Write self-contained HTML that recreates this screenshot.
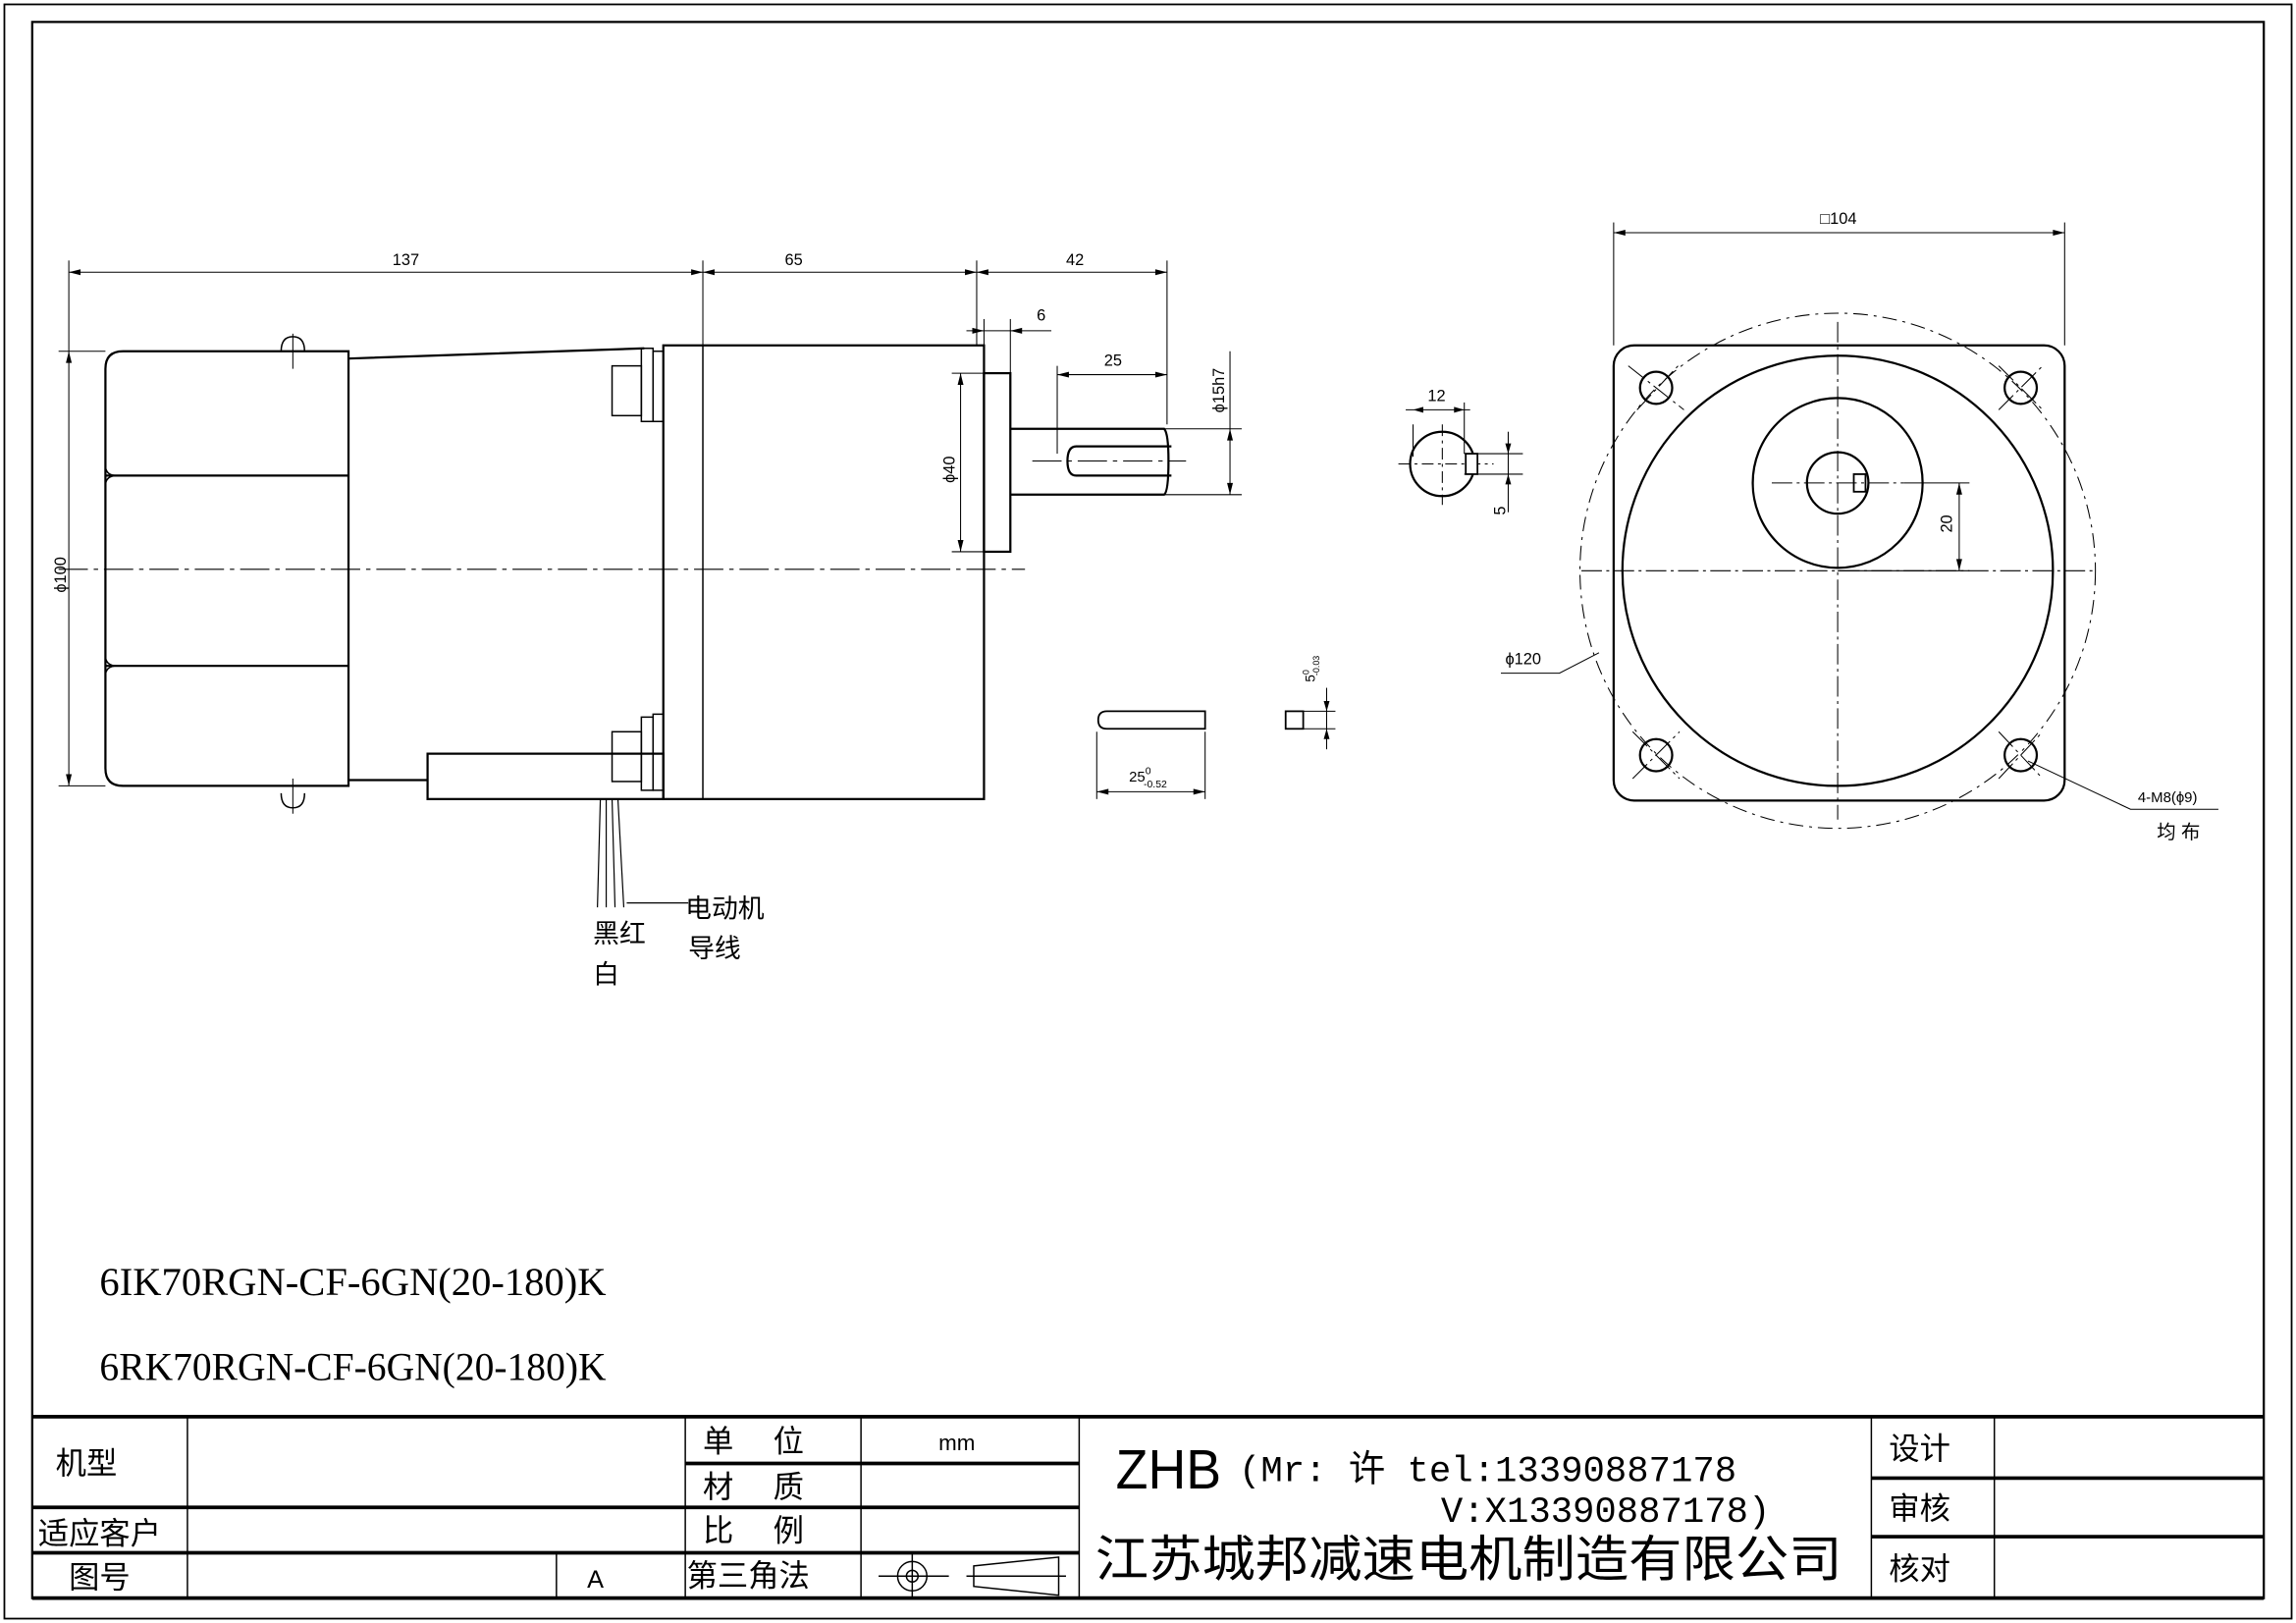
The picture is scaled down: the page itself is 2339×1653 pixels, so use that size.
<!DOCTYPE html>
<html><head><meta charset="utf-8"><style>
html,body{margin:0;padding:0;background:#fff}
svg{display:block}
text{font-family:"Liberation Sans","Noto Sans CJK SC",sans-serif;fill:#000}
</style></head><body>
<svg width="2339" height="1653" viewBox="0 0 1568 1109" preserveAspectRatio="none" xmlns="http://www.w3.org/2000/svg">
<g fill="none" stroke="#000" stroke-width="1">
<rect x="3" y="3" width="1562" height="1103" stroke-width="1.2"/>
<rect x="22" y="15" width="1524" height="1077" stroke-width="1.5"/>
<g stroke-width="2.5">
<line x1="22" y1="968" x2="1546" y2="968"/>
<line x1="22" y1="1092" x2="1546" y2="1092"/>
<line x1="22" y1="1030" x2="468" y2="1030"/>
<line x1="22" y1="1061" x2="468" y2="1061"/>
<line x1="468" y1="1000" x2="737" y2="1000"/>
<line x1="468" y1="1030" x2="737" y2="1030"/>
<line x1="468" y1="1061" x2="737" y2="1061"/>
<line x1="1278" y1="1010" x2="1546" y2="1010"/>
<line x1="1278" y1="1050" x2="1546" y2="1050"/>
</g>
<line x1="128" y1="968" x2="128" y2="1092"/>
<line x1="380" y1="1061" x2="380" y2="1092"/>
<line x1="468" y1="968" x2="468" y2="1092"/>
<line x1="588" y1="968" x2="588" y2="1092"/>
<line x1="737" y1="968" x2="737" y2="1092"/>
<line x1="1278" y1="968" x2="1278" y2="1092"/>
<line x1="1362" y1="968" x2="1362" y2="1092"/>
<circle cx="623" cy="1077" r="10"/><circle cx="623" cy="1077" r="4"/>
<line x1="600" y1="1077" x2="648" y2="1077"/><line x1="623" y1="1062" x2="623" y2="1092"/>
<path d="M665 1070 L723 1064 L723 1090 L665 1084 Z M660 1077 H728"/>

<g stroke-width="1.5">
<path d="M238 240 H84 Q72 240 72 252 V525 Q72 537 84 537 H238 Z"/>
<line x1="72" y1="325" x2="238" y2="325"/>
<line x1="72" y1="455" x2="238" y2="455"/>
<path d="M72 318 Q72 325 80 325 M72 332 Q72 325 80 325 M72 448 Q72 455 80 455 M72 462 Q72 455 80 455" stroke-width="1"/>
<path d="M238 245 L440 238 M238 533 H292"/>
<rect x="292" y="515" width="161" height="31"/>
<rect x="453" y="236" width="219" height="310"/>
<rect x="672" y="255" width="18" height="122"/>
<path d="M690 293 H795 Q798 296 798 315 Q798 336 795 338 H690"/>
<path d="M800 305 H735 Q729 305 729 315 Q729 325 735 325 H800"/>
</g>
<line x1="480" y1="236" x2="480" y2="546"/>
<path d="M192 240 Q192 230 200 230 Q208 230 208 240 M192 542 Q192 552 200 552 Q208 552 208 542"/>
<line x1="200" y1="228" x2="200" y2="252" stroke-width="0.7"/><line x1="200" y1="532" x2="200" y2="556" stroke-width="0.7"/>
<rect x="438" y="238" width="8" height="50"/><rect x="446" y="240" width="7" height="48"/>
<rect x="418" y="250" width="20" height="34"/>
<rect x="438" y="490" width="8" height="50"/><rect x="446" y="488" width="7" height="52"/>
<rect x="418" y="500" width="20" height="34"/>
<path d="M410 546 L408 620 M414 546 L414 620 M418 546 L420 620 M422 546 L426 620" stroke-width="0.8"/>
<line x1="428" y1="617" x2="470" y2="617" stroke-width="0.8"/>
<line x1="40" y1="389" x2="700" y2="389" stroke-dasharray="20 4 3 4" stroke-width="0.7"/>
<line x1="705" y1="315" x2="810" y2="315" stroke-dasharray="20 4 3 4" stroke-width="0.7"/>
<g stroke-width="0.7">
<line x1="47" y1="178" x2="47" y2="240"/><line x1="480" y1="178" x2="480" y2="236"/>
<line x1="667" y1="178" x2="667" y2="236"/><line x1="797" y1="178" x2="797" y2="290"/>
<line x1="47" y1="186" x2="797" y2="186"/>
<line x1="672" y1="218" x2="672" y2="255"/><line x1="690" y1="218" x2="690" y2="255"/>
<line x1="660" y1="226" x2="718" y2="226"/>
<line x1="722" y1="250" x2="722" y2="310"/><line x1="722" y1="256" x2="797" y2="256"/>
<line x1="795" y1="293" x2="848" y2="293"/><line x1="795" y1="338" x2="848" y2="338"/>
<line x1="840" y1="240" x2="840" y2="338"/>
<line x1="650" y1="255" x2="672" y2="255"/><line x1="650" y1="377" x2="672" y2="377"/>
<line x1="656" y1="255" x2="656" y2="377"/>
<line x1="40" y1="240" x2="72" y2="240"/><line x1="40" y1="537" x2="72" y2="537"/>
<line x1="47" y1="240" x2="47" y2="537"/>
</g>
<g fill="#000" stroke="none">
<path d="M47 186 l8 -2 v4z M480 186 l-8 -2 v4z M480 186 l8 -2 v4z M667 186 l-8 -2 v4z M667 186 l8 -2 v4z M797 186 l-8 -2 v4z"/>
<path d="M672 226 l-8 -2 v4z M690 226 l8 -2 v4z M722 256 l8 -2 v4z M797 256 l-8 -2 v4z"/>
<path d="M840 293 l-2 8 h4z M840 338 l-2 -8 h4z M656 255 l-2 8 h4z M656 377 l-2 -8 h4z M47 240 l-2 8 h4z M47 537 l-2 -8 h4z"/>
</g>

<path d="M823 486 H756 Q750 486 750 492 Q750 498 756 498 H823 Z" stroke-width="1.2"/>
<g stroke-width="0.7">
<line x1="749" y1="500" x2="749" y2="546"/><line x1="823" y1="500" x2="823" y2="546"/>
<line x1="749" y1="541" x2="823" y2="541"/>
<rect x="878" y="486" width="12" height="12" stroke-width="1.2"/>
<line x1="890" y1="486" x2="912" y2="486"/><line x1="890" y1="498" x2="912" y2="498"/>
<line x1="906" y1="470" x2="906" y2="512"/>
</g>

<circle cx="985" cy="317" r="22" stroke-width="1.5"/>
<g stroke-width="0.7">
<line x1="965" y1="290" x2="965" y2="312"/><line x1="1000" y1="275" x2="1000" y2="310"/>
<line x1="960" y1="280" x2="1004" y2="280"/>
<line x1="1000" y1="310" x2="1040" y2="310"/><line x1="1000" y1="324" x2="1040" y2="324"/>
<line x1="1030" y1="295" x2="1030" y2="350"/>
<line x1="955" y1="317" x2="1020" y2="317" stroke-dasharray="8 3 2 3"/>
<line x1="985" y1="290" x2="985" y2="345" stroke-dasharray="8 3 2 3"/>
</g>
<rect x="1001" y="310" width="8" height="14" fill="#fff" stroke-width="1.2"/>

<rect x="1102" y="236" width="308" height="311" rx="14" stroke-width="1.5"/>
<circle cx="1255" cy="390" r="147" stroke-width="1.5"/>
<circle cx="1255" cy="390" r="176" stroke-dasharray="10 4 2 4" stroke-width="0.7"/>
<circle cx="1255" cy="330" r="58" stroke-width="1.5"/>
<circle cx="1255" cy="330" r="21" stroke-width="1.5"/>
<rect x="1266" y="324" width="8" height="12" stroke-width="1.2"/>
<g stroke-width="1.5">
<circle cx="1131" cy="265" r="11"/><circle cx="1380" cy="265" r="11"/>
<circle cx="1131" cy="516" r="11"/><circle cx="1380" cy="516" r="11"/>
</g>
<g stroke-width="0.7" stroke-dasharray="14 3 2 3">
<line x1="1080" y1="390" x2="1430" y2="390"/><line x1="1255" y1="220" x2="1255" y2="560"/>
<line x1="1210" y1="330" x2="1300" y2="330"/>
<line x1="1112" y1="250" x2="1150" y2="280"/><line x1="1118" y1="280" x2="1146" y2="250"/>
<line x1="1365" y1="250" x2="1395" y2="280"/><line x1="1365" y1="280" x2="1395" y2="250"/>
<line x1="1115" y1="500" x2="1147" y2="532"/><line x1="1115" y1="532" x2="1147" y2="500"/>
<line x1="1365" y1="500" x2="1395" y2="532"/><line x1="1365" y1="532" x2="1395" y2="500"/>
</g>
<g stroke-width="0.7">
<line x1="1102" y1="152" x2="1102" y2="236"/><line x1="1410" y1="152" x2="1410" y2="236"/>
<line x1="1102" y1="159" x2="1410" y2="159"/>
<line x1="1300" y1="330" x2="1345" y2="330"/><line x1="1255" y1="390" x2="1345" y2="390"/>
<line x1="1338" y1="330" x2="1338" y2="390"/>
<path d="M1025 460 H1065 L1092 446"/>
<path d="M1385 520 L1455 553 H1515"/>
</g>
<g fill="#000" stroke="none">
<path d="M1102 159 l8 -2 v4z M1410 159 l-8 -2 v4z M1338 330 l-2 8 h4z M1338 390 l-2 -8 h4z"/>
<path d="M749 541 l8 -2 v4z M823 541 l-8 -2 v4z M906 486 l-2 -7 h4z M906 498 l-2 7 h4z"/>
<path d="M965 280 l7 -2 v4z M1000 280 l-7 -2 v4z M1030 310 l-2 -7 h4z M1030 324 l-2 7 h4z"/>
</g>
</g>

<g font-size="11">
<text x="268" y="181">137</text><text x="536" y="181">65</text><text x="728" y="181">42</text>
<text x="708" y="219">6</text><text x="754" y="250">25</text>
<text x="1243" y="153">□104</text><text x="975" y="274">12</text>
<text x="1028" y="454">ϕ120</text>
<text x="1460" y="548" font-size="10">4-M8(ϕ9)</text>
<text x="1473" y="573" font-size="13">均  布</text>
<text x="771" y="534" font-size="10">25<tspan font-size="7" dy="-5">0</tspan><tspan font-size="7" dx="-5" dy="9">-0.52</tspan></text>
<text transform="translate(836,282) rotate(-90)">ϕ15h7</text>
<text transform="translate(652,330) rotate(-90)">ϕ40</text>
<text transform="translate(45,405) rotate(-90)">ϕ100</text>
<text transform="translate(1028,352) rotate(-90)">5</text>
<text transform="translate(1333,364) rotate(-90)">20</text>
<text transform="translate(898,466) rotate(-90)" font-size="9">5<tspan font-size="6" dy="-4">0</tspan><tspan font-size="6" dx="-4" dy="7">-0.03</tspan></text>
</g>
<g font-size="18">
<text x="468" y="627">电动机</text><text x="470" y="654">导线</text>
<text x="405" y="644">黑红</text><text x="405" y="672">白</text>
</g>
<text x="68" y="885" font-size="27" style="font-family:'Liberation Serif',serif" textLength="346" lengthAdjust="spacingAndGlyphs">6IK70RGN-CF-6GN(20-180)K</text>
<text x="68" y="943" font-size="27" style="font-family:'Liberation Serif',serif" textLength="346" lengthAdjust="spacingAndGlyphs">6RK70RGN-CF-6GN(20-180)K</text>
<g font-size="21">
<text x="38" y="1007">机型</text>
<text x="26" y="1055">适应客户</text>
<text x="47" y="1085">图号</text>
<text x="401" y="1085" font-size="17">A</text>
<text x="480" y="992">单</text><text x="528" y="992">位</text>
<text x="480" y="1023">材</text><text x="528" y="1023">质</text>
<text x="480" y="1053">比</text><text x="528" y="1053">例</text>
<text x="469" y="1084">第三角法</text>
<text x="641" y="991" font-size="15">mm</text>
<text x="1290" y="997">设计</text>
<text x="1290" y="1038">审核</text>
<text x="1290" y="1079">核对</text>
</g>
<text x="762" y="1017" font-size="38" textLength="72" lengthAdjust="spacingAndGlyphs">ZHB</text>
<text x="846" y="1012" font-size="25" style="font-family:'Liberation Mono','Noto Sans CJK SC',monospace">(Mr: 许 tel:13390887178</text>
<text x="984" y="1040" font-size="25" style="font-family:'Liberation Mono','Noto Sans CJK SC',monospace">V:X13390887178)</text>
<text x="748" y="1077" font-size="34" textLength="510" lengthAdjust="spacingAndGlyphs">江苏城邦减速电机制造有限公司</text>
</svg>
</body></html>
